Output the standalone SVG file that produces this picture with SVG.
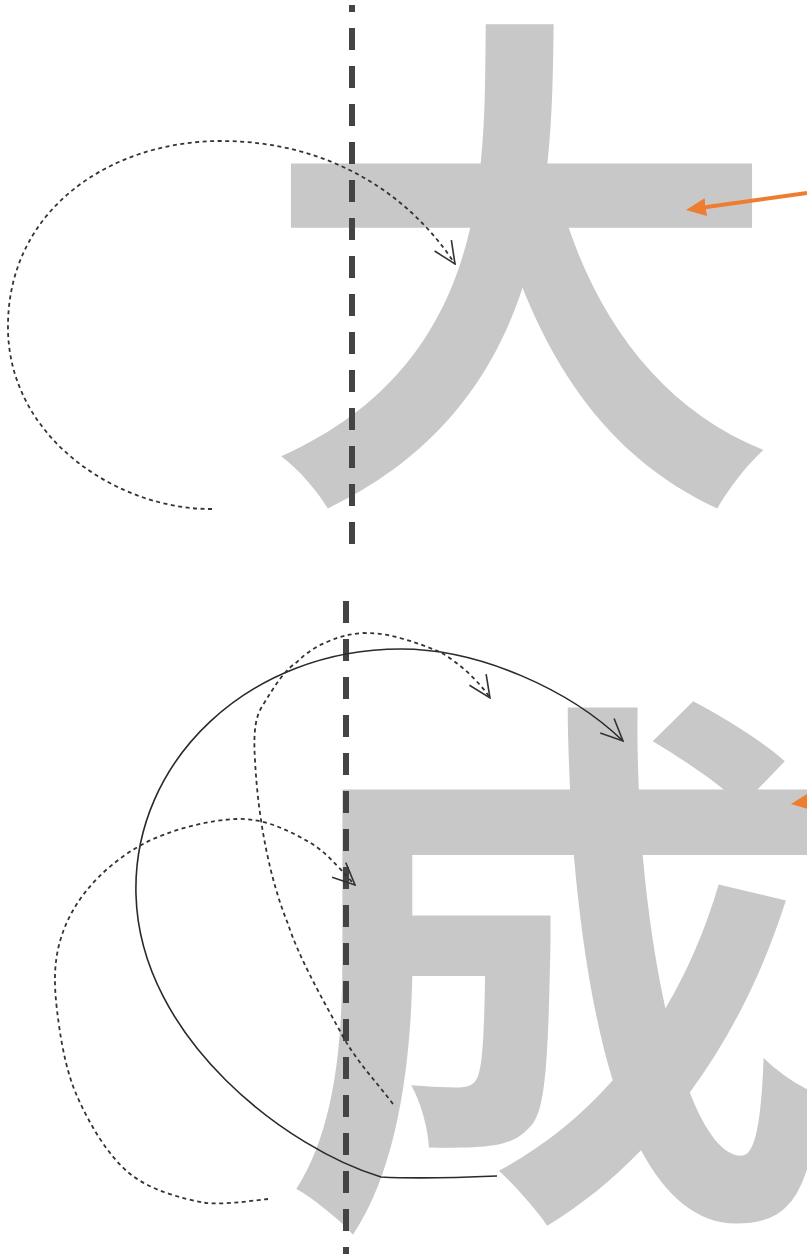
<svg xmlns="http://www.w3.org/2000/svg" width="807" height="1254" viewBox="0 0 807 1254">
  <style>
    .glyph { font-family: "Noto Sans CJK SC", "Noto Sans CJK JP", sans-serif; font-weight: 700; fill: #c8c8c8; text-anchor: middle; }
    .axis { stroke: #444; stroke-width: 6; stroke-dasharray: 22 16; fill: none; }
    .dash { stroke: #333; stroke-width: 1.8; stroke-dasharray: 4 3.5; fill: none; marker-end: url(#vhead); }
    .solid { stroke: #2a2a2a; stroke-width: 1.6; fill: none; marker-end: url(#vhead); }
    .orange { stroke: #ED7D31; stroke-width: 4; fill: none; marker-end: url(#ohead); }
  </style>
  <defs>
    <marker id="vhead" viewBox="0 0 24 22" markerWidth="24" markerHeight="22" markerUnits="userSpaceOnUse" refX="23" refY="11" orient="auto">
      <path d="M1,1 L23,11 L1,21" fill="none" stroke="#333" stroke-width="1.6"/>
    </marker>
    <marker id="ohead" viewBox="0 0 20 18" markerWidth="20" markerHeight="18" markerUnits="userSpaceOnUse" refX="10" refY="9" orient="auto">
      <path d="M0,0 L20,9 L0,18 z" fill="#ED7D31"/>
    </marker>
  </defs>
  <rect width="807" height="1254" fill="#ffffff"/>

  <g id="char-da">
    <text class="glyph" x="521" y="464" font-size="518">大</text>
  </g>
  <g id="char-cheng">
    <text class="glyph" x="560" y="1178" font-size="555">成</text>
  </g>

  <g id="axes">
    <line class="axis" x1="352" y1="5" x2="352" y2="560" stroke-dashoffset="15"/>
    <line class="axis" x1="346" y1="601" x2="346" y2="1254"/>
  </g>

  <g id="connectors">
    <path class="dash" d="M212,509 C120,510 10,440 8,330 C6,210 110,141 221,141 C330,141 410,195 455,264"/>
    <path class="solid" d="M497,1176 C450,1178 420,1179 381,1177 C290,1150 140,1040 136,895 C132,760 250,649 401,649 C480,649 570,690 623,741"/>
    <path class="dash" d="M268,1199 C257.7,1199.7 229.2,1205 206,1203 C182.8,1198.7 150.5,1190.8 129,1173 C107.5,1155.2 89,1123.2 77,1096 C65,1068.8 60,1035.2 57,1010 C54,984.8 54,965 59,945 C64,925 73.7,906.3 87,890 C100.3,873.7 120,856 145,843 C170,830 208.7,819.8 237,819 C265.3,818.2 289.3,831 309,842 C328.7,853 347.3,877.8 355,885"/>
    <path class="dash" d="M393,1104 C375,1080 355,1060 340,1031 C320,995 298,955 288,924 C270,880 258,820 255,760 C253,730 256,715 263,705 C275,685 285,670 297,662 C307,652 317,646 327,642 C340,636 350,634 363,633 C378,633 390,635 400,638 C415,642 428,647 440,652 C458,662 478,680 490,698"/>
    <path class="orange" d="M807,193 L695.9,208.6"/>
    <path class="orange" d="M900,789 L800.9,802.6"/>
  </g>
</svg>
